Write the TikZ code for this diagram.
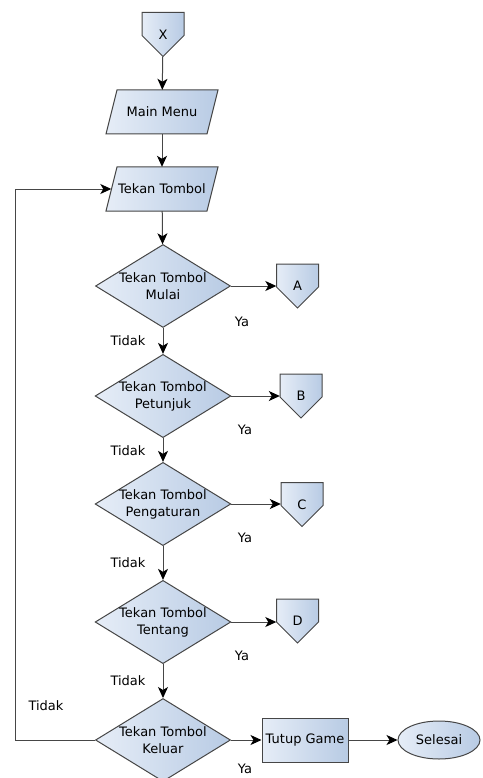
\documentclass[tikz,border=0pt]{standalone}
\usepackage{fontspec}
\setmainfont{DejaVu Sans}
\usetikzlibrary{shapes.geometric,arrows.meta}
\definecolor{boxlight}{RGB}{230,237,247}
\definecolor{boxdark}{RGB}{184,203,228}
\definecolor{boxline}{RGB}{70,70,70}
\tikzset{
  base/.style={draw=boxline, line width=1pt, left color=boxlight, right color=boxdark,
    font=\fontsize{13}{17}\selectfont, align=center, inner sep=0pt},
  decision/.style={base, diamond, aspect=1.63, minimum width=135pt, minimum height=83pt},
  hidden/.style={rectangle, inner sep=0pt, font=\fontsize{13}{17}\selectfont},
  process/.style={base, rectangle, minimum width=86pt, minimum height=44pt},
  terminal/.style={base, ellipse, minimum width=82pt, minimum height=38pt},
  flow/.style={draw=boxline, line width=1pt, -{Stealth[length=11pt,width=10pt,inset=3pt,black]}},
  lbl/.style={font=\fontsize{13}{17}\selectfont, inner sep=0pt}
}
% off-page connector: name, x center, y top, label
\newcommand\offpage[4]{
  \path[base] (#2-21,#3) -- ++(42,0) -- ++(0,23) -- ++(-21,21) -- ++(-21,-21) -- cycle;
  \node[hidden, minimum width=42pt, minimum height=44pt] (#1) at (#2,#3+22) {#4};
}
% input/output: name, x center, y center, label
\newcommand\iobox[4]{
  \path[base] (#2-56,#3+22) -- (#2-45,#3-22) -- (#2+56,#3-22) -- (#2+45,#3+22) -- cycle;
  \node[hidden, minimum width=101pt, minimum height=44pt] (#1) at (#2,#3) {#4};
}

\begin{document}
\begin{tikzpicture}[x=1pt, y=-1pt]
\useasboundingbox (0,0) rectangle (482,778);

% awal
\offpage{x}{163}{12.5}{X}
\iobox{menu}{162}{112}{Main Menu}
\iobox{tekan}{162}{189}{Tekan Tombol}

% pilihan tombol
\node[decision] (mulai) at (163,286) {Tekan Tombol\\Mulai};
\node[decision] (petunjuk) at (163,396) {Tekan Tombol\\Petunjuk};
\node[decision] (atur) at (163,504) {Tekan Tombol\\Pengaturan};
\node[decision] (tentang) at (163,622) {Tekan Tombol\\Tentang};
\node[decision] (keluar) at (163,740) {Tekan Tombol\\Keluar};

\offpage{a}{297.5}{264}{A}
\offpage{b}{301}{374}{B}
\offpage{c}{302}{482.5}{C}
\offpage{d}{297.5}{599}{D}

\node[process] (tutup) at (305,740) {Tutup Game};
\node[terminal] (selesai) at (439,740) {Selesai};

\coordinate (balik) at (15,740);

\draw[flow] (x) -- (menu);
\draw[flow] (menu) -- (tekan);
\draw[flow] (tekan) -- (mulai);
\draw[flow] (mulai) -- (petunjuk);
\draw[flow] (petunjuk) -- (atur);
\draw[flow] (atur) -- (tentang);
\draw[flow] (tentang) -- (keluar);
\draw[flow] (mulai.east) -- (mulai.east -| a.west);
\draw[flow] (petunjuk.east) -- (petunjuk.east -| b.west);
\draw[flow] (atur.east) -- (atur.east -| c.west);
\draw[flow] (tentang.east) -- (tentang.east -| d.west);
\draw[flow] (keluar) -- (tutup);
\draw[flow] (tutup) -- (selesai);
\draw[flow] (keluar.west) -- (balik) |- (tekan.west);

% label
\node[lbl] (ya1) at (242,322) {Ya};
\node[lbl] (ya2) at (245,430) {Ya};
\node[lbl] (ya3) at (245,538) {Ya};
\node[lbl] (ya4) at (242,656) {Ya};
\node[lbl] (ya5) at (245,769) {Ya};
\node[lbl] (tidak1) at (128,341) {Tidak};
\node[lbl] (tidak2) at (128,451) {Tidak};
\node[lbl] (tidak3) at (128,563) {Tidak};
\node[lbl] (tidak4) at (128,681) {Tidak};
\node[lbl] (tidak5) at (46,706) {Tidak};
\end{tikzpicture}
\end{document}
